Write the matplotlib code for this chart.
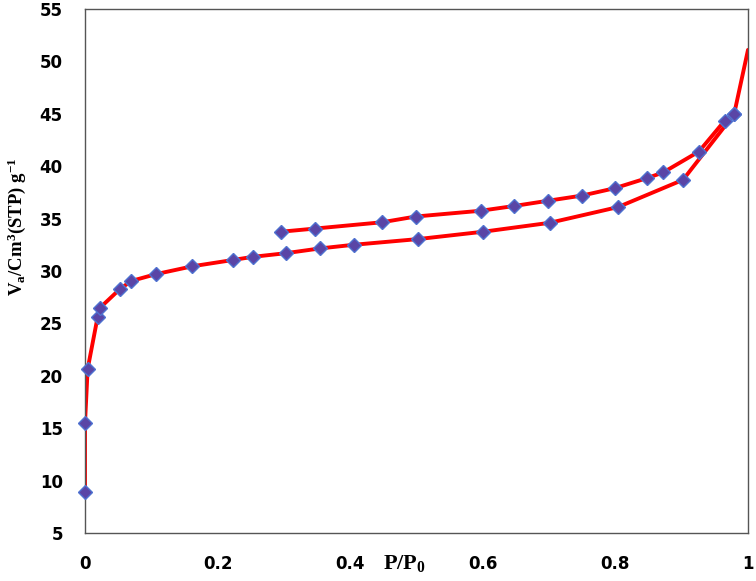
import matplotlib as mpl
mpl.use('Agg')
import matplotlib.pyplot as plt

# adsorption branch (lower curve)
ads_x = [0.0, 0.0, 0.004, 0.019, 0.022, 0.053, 0.070, 0.107, 0.162, 0.223,
         0.253, 0.303, 0.354, 0.405, 0.503, 0.601, 0.701, 0.804, 0.902, 0.979]
ads_y = [8.9, 15.5, 20.65, 25.6, 26.45, 28.3, 29.05, 29.7, 30.45, 31.05,
         31.35, 31.7, 32.15, 32.5, 33.05, 33.75, 34.6, 36.1, 38.7, 44.95]
# end of the curve at P/P0 = 1 (no marker)
end_x = [0.979, 1.0]
end_y = [44.95, 51.1]

# desorption branch (upper curve)
des_x = [0.979, 0.965, 0.926, 0.872, 0.847, 0.799, 0.750, 0.698, 0.647, 0.597,
         0.499, 0.448, 0.347, 0.296]
des_y = [44.95, 44.35, 41.4, 39.4, 38.85, 37.9, 37.2, 36.7, 36.2, 35.75,
         35.2, 34.65, 34.05, 33.75]

xticks = [0, 0.2, 0.4, 0.6, 0.8, 1]
xticklabels = ['0', '0.2', '0.4', '0.6', '0.8', '1']
yticks = list(range(5, 56, 5))

plt.rcParams['mathtext.fontset'] = 'custom'
plt.rcParams['mathtext.rm'] = 'Liberation Serif:bold'
plt.rcParams['mathtext.bf'] = 'Liberation Serif:bold'
plt.rcParams['mathtext.it'] = 'Liberation Serif:bold'

fig = plt.figure(figsize=(7.56, 5.81), dpi=100)
ax = fig.add_axes([85 / 756, 1 - 533 / 581, 663 / 756, 524 / 581])

line_kw = dict(color='#ff0000', lw=2.8, solid_capstyle='round', zorder=2)
mark_kw = dict(ls='none', marker='D', ms=7.5, mfc='#5a45a6', mec='#4f72d0',
               mew=1.0, zorder=3, clip_on=False)

ax.plot(ads_x, ads_y, **line_kw)
ax.plot(end_x, end_y, **line_kw)
ax.plot(des_x, des_y, **line_kw)
ax.plot(ads_x, ads_y, **mark_kw)
ax.plot(des_x, des_y, **mark_kw)

ax.set_xlim(0, 1)
ax.set_ylim(5, 55)
ax.set_xticks(xticks)
ax.set_xticklabels(xticklabels)
ax.set_yticks(yticks)
ax.tick_params(length=0, labelsize=12, pad=16)
for lab in ax.get_xticklabels() + ax.get_yticklabels():
    lab.set_fontweight('bold')
for sp in ax.spines.values():
    sp.set_color('#555555')
    sp.set_linewidth(1.0)

fig.text(404 / 756, 1 - 563 / 581, r'P/P$_0$', fontsize=16, fontweight='bold',
         family='Liberation Serif', ha='center', va='center')
fig.text(17 / 756, 1 - 227 / 581, r'V$_\mathrm{a}$/Cm$^\mathrm{3}$(STP) g$^\mathrm{-1}$',
         fontsize=13.5, fontweight='bold', family='Liberation Serif',
         rotation=90, ha='center', va='center')

fig.savefig('out.png', dpi=100)
